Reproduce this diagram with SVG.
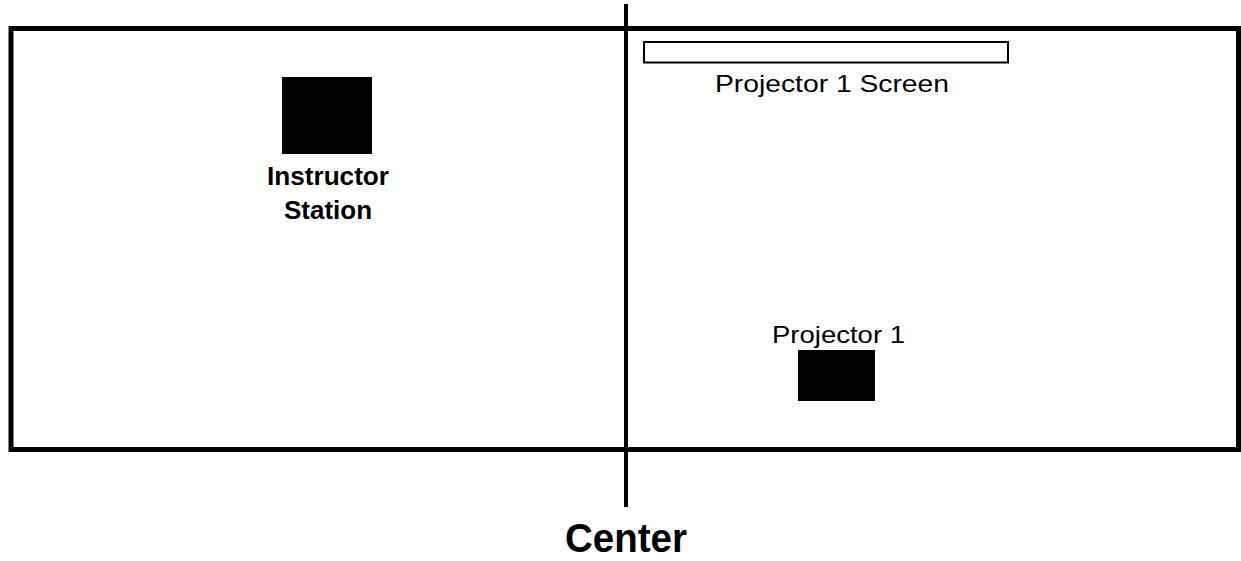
<svg xmlns="http://www.w3.org/2000/svg" width="1241" height="561" viewBox="0 0 1241 561">
<style>
.lbl{font-family:"Liberation Sans",Arial,sans-serif;fill:#000;text-anchor:middle}
.b{font-weight:bold}
.solid{fill:#000;stroke:none}
</style>
<rect width="1241" height="561" fill="#fff"/>
<g id="room">
<rect x="11" y="28.5" width="1227.5" height="421" fill="none" stroke="#000" stroke-width="5"/>
</g>
<g id="connectors">
<line x1="626" y1="4" x2="626" y2="507" stroke="#000" stroke-width="4"/>
</g>
<g id="instructor-station">
<rect class="solid" x="282" y="77" width="90" height="77"/>
<text class="lbl b" x="328" y="185" font-size="26" textLength="122" lengthAdjust="spacingAndGlyphs">Instructor</text>
<text class="lbl b" x="328" y="219" font-size="26" textLength="88" lengthAdjust="spacingAndGlyphs">Station</text>
</g>
<g id="projector-screen">
<rect x="644" y="42" width="364" height="20.5" fill="#fff" stroke="#000" stroke-width="2"/>
<text class="lbl" x="832" y="92" font-size="24" textLength="234" lengthAdjust="spacingAndGlyphs">Projector 1 Screen</text>
</g>
<g id="projector">
<text class="lbl" x="838.5" y="343" font-size="24" textLength="133" lengthAdjust="spacingAndGlyphs">Projector 1</text>
<rect class="solid" x="798" y="350" width="77" height="51"/>
</g>
<g id="center-label">
<text class="lbl b" x="626" y="552" font-size="40" textLength="122" lengthAdjust="spacingAndGlyphs">Center</text>
</g>
</svg>
